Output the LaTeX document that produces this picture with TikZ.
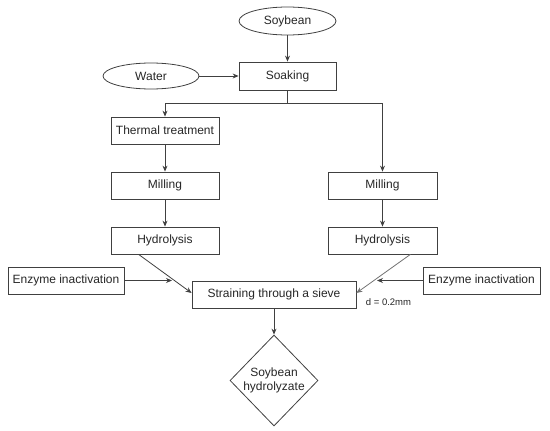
\documentclass[tikz,border=0pt]{standalone}
\usepackage{fontspec}
\setmainfont{Liberation Sans}
\usetikzlibrary{shapes.geometric,arrows.meta,calc}
\begin{document}
\begin{tikzpicture}[x=1pt,y=-1pt,
  font=\fontsize{12}{14}\selectfont, text=black!85,
  box/.style={draw=black!75, line width=0.8pt, rectangle, inner sep=0pt},
  oval/.style={draw=black!75, line width=0.8pt, ellipse, inner sep=0pt},
  conn/.style={draw=black!75, line width=0.8pt, -{Stealth[length=6pt,width=5pt]}},
  plain/.style={draw=black!75, line width=0.8pt}]
\useasboundingbox (0,0) rectangle (550,431);
\node[oval, minimum width=97pt, minimum height=28pt] (soy) at (287.5,21) {Soybean};
\node[oval, minimum width=96pt, minimum height=26pt] (water) at (151,76) {Water};
\node[box, minimum width=97pt, minimum height=28pt] (soak) at (287.5,76) {Soaking};
\node[box, minimum width=108pt, minimum height=27pt] (therm) at (165,130.5) {Thermal treatment};
\node[box, minimum width=108pt, minimum height=27pt] (mill1) at (165,185.5) {Milling};
\node[box, minimum width=108pt, minimum height=27pt] (hyd1) at (165,240.5) {Hydrolysis};
\node[box, minimum width=109pt, minimum height=27pt] (mill2) at (382.5,185.5) {Milling};
\node[box, minimum width=109pt, minimum height=27pt] (hyd2) at (382.5,240.5) {Hydrolysis};
\node[box, minimum width=116pt, minimum height=27pt] (enzL) at (66,280.5) {Enzyme inactivation};
\node[box, minimum width=117pt, minimum height=27pt] (enzR) at (481.5,280.5) {Enzyme inactivation};
\node[box, minimum width=164pt, minimum height=27pt] (strain) at (274,294.5) {Straining through a sieve};
\node[draw=black!75, line width=0.8pt, diamond, inner sep=0pt, minimum width=88pt, minimum height=91pt] (prod) at (274,380.5) {};
\node[align=center, inner sep=0pt] (prodtxt) at (274,380) {Soybean\\hydrolyzate};
\node[font=\fontsize{9.5}{11}\selectfont, inner sep=0pt] (dlab) at (388.5,302) {d = 0.2mm};
\draw[conn] (soy) -- (soak);
\draw[conn] (water) -- (soak);
\coordinate (split) at (287.5,103);
\draw[plain] (soak.south) -- (split);
\draw[conn] (split) -| (therm.north);
\draw[conn] (split) -| (mill2.north);
\draw[conn] (therm) -- (mill1);
\draw[conn] (mill1) -- (hyd1);
\draw[conn] (mill2) -- (hyd2);
\draw[conn] ($(hyd1.south west)+(28,0)$) -- ($(strain.west)+(0,-1.5)$);
\draw[conn, draw=black!55] ($(hyd2.south east)+(-27,0)$) -- ($(strain.east)+(0,-1.5)$);
\coordinate (eL) at (172,280.5);
\coordinate (eR) at (377,280.5);
\draw[conn] (enzL) -- (eL);
\draw[conn] (enzR) -- (eR);
\draw[conn] (strain) -- (prod);
\end{tikzpicture}
\end{document}
